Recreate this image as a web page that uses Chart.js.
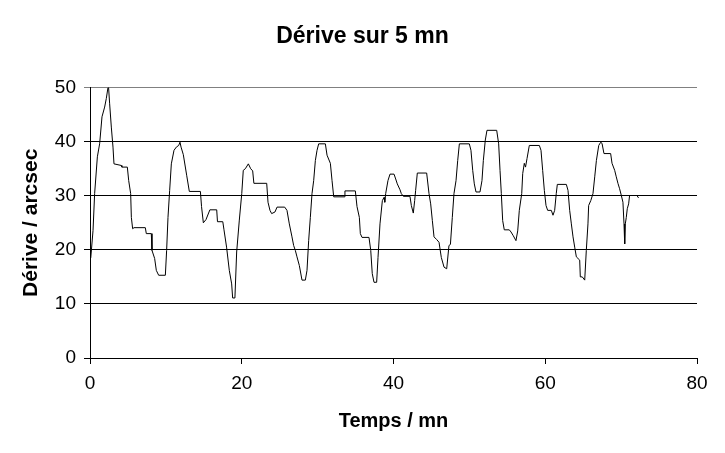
<!DOCTYPE html>
<html>
<head>
<meta charset="utf-8">
<script src="https://cdn.jsdelivr.net/npm/chart.js@4/dist/chart.umd.min.js"></script>
<style>
  html, body { margin: 0; padding: 0; background: #fff; }
  #wrap { width: 725px; height: 453px; }
</style>
</head>
<body>
<div id="wrap"><canvas id="c" width="725" height="453"></canvas></div>
<script>
const chartTitle = "Dérive sur 5 mn";
const xTitle = "Temps / mn";
const yTitle = "Dérive / arcsec";

const timeMin = [
  0.1, 0.4, 0.61, 0.97, 1.27, 1.58, 1.93, 2.15, 2.37, 2.45, 2.59, 2.81, 3.03, 3.16, 4.13, 4.2, 4.92,
  5.1, 5.36, 5.45, 5.62, 5.8, 7.29, 7.42, 8.08, 8.17, 8.52, 8.74, 9.05, 9.93, 10.1, 10.28, 10.5,
  10.72, 11.07, 11.38, 11.69, 11.86, 12.0, 12.3, 12.74, 13.09, 14.55, 14.7, 14.94, 15.29, 15.8,
  16.7, 16.8, 17.5, 17.66, 18.0, 18.36, 18.67, 18.8, 19.1, 19.33, 19.68, 20.0, 20.2, 20.47, 20.87,
  21.18, 21.44, 21.6, 23.29, 23.46, 23.72, 23.94, 24.38, 24.65, 25.66, 25.96, 26.27, 26.62, 26.84,
  27.06, 27.28, 27.59, 27.94, 28.38, 28.6, 28.82, 29.04, 29.26, 29.48, 29.7, 29.92, 30.14, 31.02,
  31.24, 31.68, 31.9, 32.12, 33.5, 33.6, 34.97, 35.19, 35.5, 35.63, 35.85, 36.77, 37.0, 37.2,
  37.43, 37.78, 37.96, 38.22, 38.53, 38.75, 38.85, 38.97, 39.27, 39.54, 40.07, 40.29, 40.5, 40.86,
  41.03, 41.3, 42.17, 42.35, 42.61, 42.79, 42.92, 43.14, 44.37, 44.68, 44.9, 45.12, 45.34, 45.69,
  46.0, 46.3, 46.66, 47.01, 47.31, 47.5, 47.75, 47.97, 48.24, 48.46, 48.68, 49.99, 50.21, 50.44,
  50.65, 50.87, 51.4, 51.66, 51.84, 52.1, 52.32, 53.6, 53.86, 54.04, 54.21, 54.39, 54.6, 55.26,
  55.49, 55.79, 56.14, 56.37, 56.58, 56.9, 57.03, 57.24, 57.4, 57.6, 57.9, 59.22, 59.44, 59.66,
  59.88, 60.1, 60.32, 60.8, 61.02, 61.24, 61.45, 61.59, 62.78, 63.0, 63.22, 63.44, 63.66, 63.88,
  64.1, 64.54, 64.62, 64.88, 65.2, 65.41, 65.63, 65.72, 66.0, 66.29, 66.52, 66.74, 67.05, 67.31,
  67.48, 67.74, 68.62, 68.8, 69.15, 69.36, 69.58, 69.8, 70.02, 70.24, 70.38, 70.47, 70.55, 70.68,
  70.81, 70.99, 71.12, 71.2, 72.1, 72.3
];
const drift = [
  18.5, 23.6, 30.4, 37.2, 39.6, 44.6, 46.4, 48.0, 50.0, 50.0, 47.0, 42.7, 39.0, 35.9, 35.6, 35.3, 35.3,
  32.8, 30.4, 26.0, 23.9, 24.1, 24.1, 23.0, 23.0, 19.9, 18.4, 16.2, 15.3, 15.3, 19.9, 26.0, 31.0,
  35.9, 38.4, 39.0, 39.3, 39.9, 39.0, 37.6, 33.8, 30.8, 30.8, 28.0, 25.0, 25.6, 27.4,
  27.4, 25.2, 25.2, 23.7, 20.5, 16.2, 13.7, 11.1, 11.1, 19.6, 25.5, 30.4, 34.7, 35.0, 35.9,
  35.0, 34.6, 32.3, 32.3, 28.8, 27.3, 26.7, 27.0, 27.9, 27.9, 27.3, 24.8, 22.4, 20.8,
  19.9, 18.7, 17.1, 14.4, 14.4, 16.2, 21.7, 26.0, 30.4, 32.8, 36.5, 38.4, 39.6, 39.6,
  37.5, 36.0, 32.8, 29.8, 29.8, 30.9, 30.9, 28.0, 26.0, 23.0, 22.3, 22.3, 19.9, 15.6,
  14.0, 14.0, 18.6, 24.8, 29.1, 29.7, 28.8, 30.4, 32.8, 34.0, 34.0, 33.1, 32.2, 31.1,
  30.4, 29.9, 29.9, 28.2, 26.8, 29.1, 31.0, 34.2, 34.2, 30.4, 28.5, 25.4, 22.4, 21.9,
  21.4, 18.6, 16.8, 16.5, 20.8, 21.0, 26.0, 30.4, 32.8, 36.5, 39.6, 39.6, 38.4, 34.7,
  32.2, 30.7, 30.7, 32.8, 36.5, 40.3, 42.1, 42.1, 39.6, 34.7, 30.4, 25.4, 23.7, 23.7,
  23.3, 22.6, 21.7, 23.5, 27.3, 30.4, 34.1, 36.0, 35.3, 36.9, 39.3, 39.3, 38.4, 34.7,
  31.0, 28.2, 27.3, 27.3, 26.4, 27.3, 30.4, 32.1, 32.1, 31.0, 27.3, 24.8, 22.4, 20.5,
  18.7, 18.1, 15.0, 15.0, 14.4, 19.9, 24.8, 28.2, 29.1, 30.4, 33.5, 36.5, 39.3, 39.9,
  39.7, 37.8, 37.8, 36.0, 34.7, 33.5, 32.3, 31.3, 30.1, 28.8, 24.8, 21.1, 24.8, 26.0,
  27.6, 28.5, 30.1, null, 30.0, 29.6
];
const xTicks = [0, 20, 40, 60, 80];
const yTicks = [0, 10, 20, 30, 40, 50];

const points = timeMin.map((t, i) => ({ x: t, y: drift[i] }));

const FONT = "'Liberation Sans', Arial, sans-serif";

const centerTitle = {
  id: 'centerTitle',
  afterLayout(chart) {
    const t = chart.titleBlock;
    if (t) { t.left = 0; t.right = chart.width; t.width = chart.width; }
  }
};

new Chart(document.getElementById('c'), {
  type: 'line',
  data: {
    datasets: [{
      data: points,
      borderColor: '#000',
      borderWidth: 1,
      pointRadius: 0,
      tension: 0,
      spanGaps: false,
      fill: false
    }]
  },
  options: {
    responsive: false,
    animation: false,
    devicePixelRatio: 1,
    layout: { padding: { left: 0, right: 28, top: 0, bottom: 0 } },
    plugins: {
      legend: { display: false },
      tooltip: { enabled: false },
      title: {
        display: true,
        text: chartTitle,
        color: '#000',
        font: { family: FONT, size: 23, weight: 'bold' },
        padding: { top: 23, bottom: 37 }
      }
    },
    scales: {
      x: {
        type: 'linear',
        min: 0, max: 80,
        afterBuildTicks: s => { s.ticks = xTicks.map(v => ({ value: v })); },
        afterFit: s => { s.height = 95; },
        ticks: { color: '#000', font: { family: FONT, size: 19 }, padding: 8, maxRotation: 0 },
        grid: { drawOnChartArea: false, drawTicks: true, tickLength: 6, color: '#000' },
        border: { color: '#000', width: 1 },
        title: {
          display: true, text: xTitle, color: '#000',
          font: { family: FONT, size: 20, weight: 'bold' },
          padding: { top: 0, bottom: 20 }
        }
      },
      y: {
        type: 'linear',
        min: 0, max: 50,
        afterBuildTicks: s => { s.ticks = yTicks.map(v => ({ value: v })); },
        afterFit: s => { s.width = 90; },
        ticks: { color: '#000', font: { family: FONT, size: 19 }, padding: 8 },
        grid: {
          drawOnChartArea: true, drawTicks: true, tickLength: 6,
          color: ctx => (ctx.tick && ctx.tick.value === 50) ? '#808080' : '#000'
        },
        border: { color: '#000', width: 1 },
        title: {
          display: true, text: yTitle, color: '#000',
          font: { family: FONT, size: 21, weight: 'bold' },
          padding: { top: 19, bottom: 0 }
        }
      }
    }
  },
  plugins: [centerTitle]
});
</script>
</body>
</html>
